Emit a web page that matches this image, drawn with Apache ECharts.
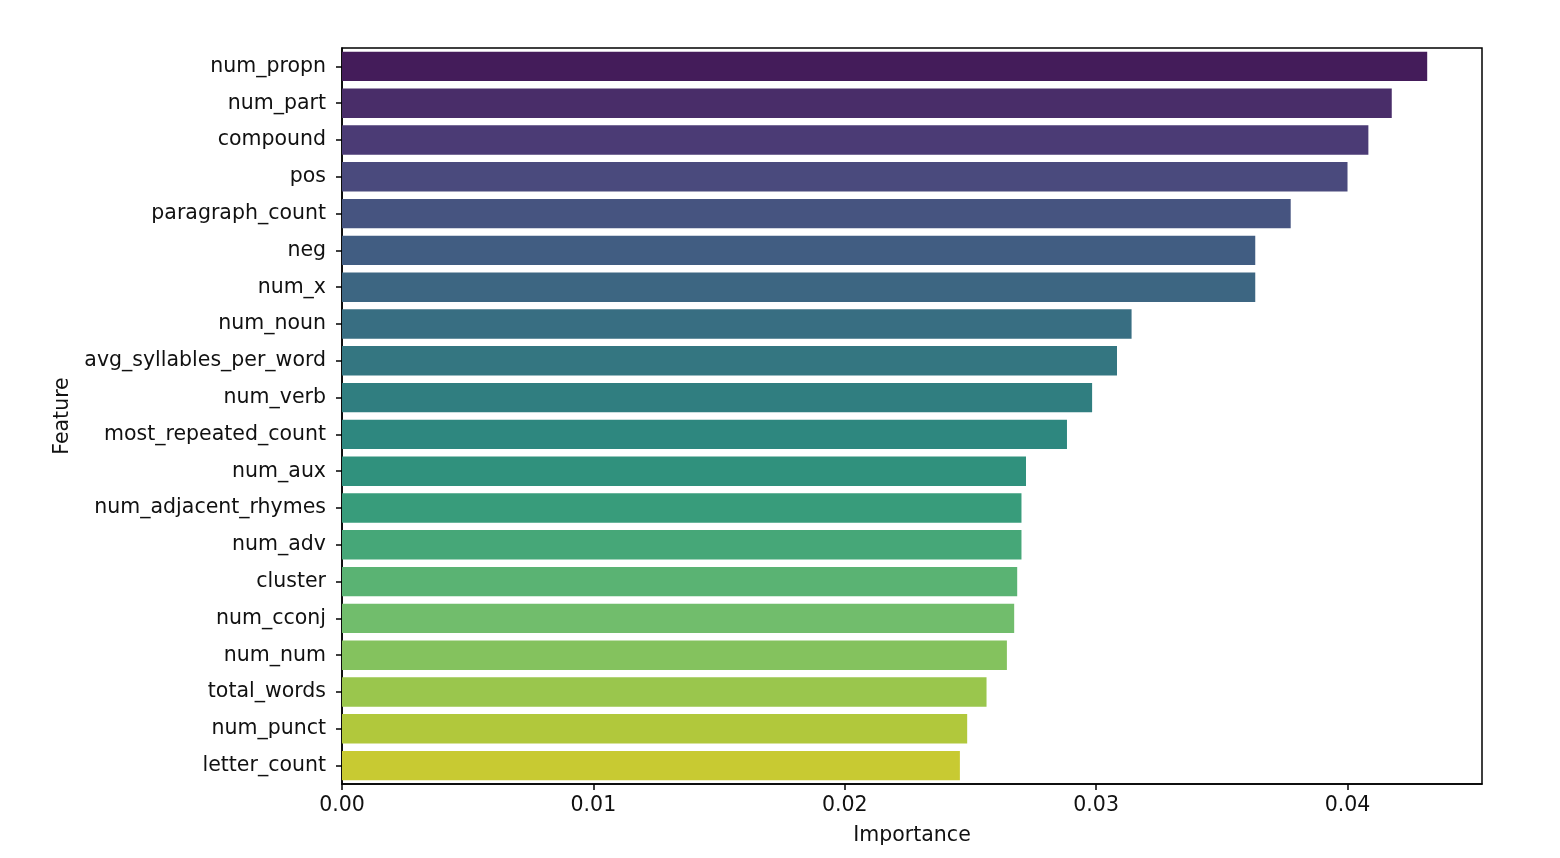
<!DOCTYPE html>
<html>
<head>
<meta charset="utf-8">
<script src="https://cdn.jsdelivr.net/npm/echarts@6/dist/echarts.min.js"></script>
<style>
  html, body { margin: 0; padding: 0; background: #fff; }
  #container { width: 1560px; height: 858px; }
</style>
</head>
<body>
<div id="container"></div>
<script>
let features = ['num_propn', 'num_part', 'compound', 'pos', 'paragraph_count', 'neg', 'num_x',
    'num_noun', 'avg_syllables_per_word', 'num_verb', 'most_repeated_count', 'num_aux',
    'num_adjacent_rhymes', 'num_adv', 'cluster', 'num_cconj', 'num_num', 'total_words',
    'num_punct', 'letter_count'];
let importance = [0.04317, 0.04176, 0.04083, 0.04000, 0.03774, 0.03633, 0.03633,
    0.03141, 0.03083, 0.02984, 0.02884, 0.02721,
    0.02703, 0.02703, 0.02686, 0.02674, 0.02645, 0.02564,
    0.02487, 0.02458];
let xTicks = [0, 0.01, 0.02, 0.03, 0.04];

// viridis stops every 0.05
let viridis = ['#440154','#471365','#482475','#463480','#414487','#3b528b','#355f8d','#2f6c8e',
    '#2a788e','#25848e','#21918c','#1e9c89','#22a884','#2fb47c','#44bf70','#5ec962',
    '#7ad151','#9bd93c','#bddf26','#dfe318','#fde725'];

function hexToRgb(h) {
    return [parseInt(h.substr(1, 2), 16), parseInt(h.substr(3, 2), 16), parseInt(h.substr(5, 2), 16)];
}

function viridisAt(t) {
    let p = t * 20;
    let i = Math.min(Math.floor(p), 19);
    let f = p - i;
    let a = hexToRgb(viridis[i]), b = hexToRgb(viridis[i + 1]);
    return a.map((v, k) => (v + (b[k] - v) * f) / 255);
}

// seaborn-style desaturation (saturation 0.75 in HLS)
function desaturate(rgb, prop) {
    let [r, g, b] = rgb;
    let mx = Math.max(r, g, b), mn = Math.min(r, g, b);
    let l = (mx + mn) / 2, h = 0, s = 0;
    if (mx !== mn) {
        let d = mx - mn;
        s = l > 0.5 ? d / (2 - mx - mn) : d / (mx + mn);
        if (mx === r) h = ((g - b) / d) % 6;
        else if (mx === g) h = (b - r) / d + 2;
        else h = (r - g) / d + 4;
        h /= 6;
        if (h < 0) h += 1;
    }
    s *= prop;
    function hue(p, q, t) {
        if (t < 0) t += 1;
        if (t > 1) t -= 1;
        if (t < 1 / 6) return p + (q - p) * 6 * t;
        if (t < 1 / 2) return q;
        if (t < 2 / 3) return p + (q - p) * (2 / 3 - t) * 6;
        return p;
    }
    let q = l < 0.5 ? l * (1 + s) : l + s - l * s;
    let p = 2 * l - q;
    let out = s === 0 ? [l, l, l] : [hue(p, q, h + 1 / 3), hue(p, q, h), hue(p, q, h - 1 / 3)];
    return 'rgb(' + out.map(v => Math.round(v * 255)).join(',') + ')';
}

let n = features.length;
let barData = importance.map((v, i) => ({
    value: v,
    itemStyle: { color: desaturate(viridisAt((i + 1) / (n + 1)), 0.75) }
}));

let font = 'DejaVu Sans';
let dom = document.getElementById('container');
let myChart = echarts.init(dom);
let option = {
    backgroundColor: '#fff',
    animation: false,
    grid: {
        left: 342,
        right: 78,
        top: 48,
        bottom: 74,
        show: true,
        borderColor: '#000',
        borderWidth: 1.5
    },
    xAxis: {
        type: 'value',
        min: 0,
        max: 0.04535,
        interval: 0.01,
        name: 'Importance',
        nameLocation: 'middle',
        nameGap: 41,
        nameTextStyle: { fontSize: 20.5, color: '#111', fontFamily: font },
        splitLine: { show: false },
        axisLine: { show: true, lineStyle: { color: '#000', width: 1.5 } },
        axisTick: { show: true, length: 6, customValues: xTicks, lineStyle: { color: '#000', width: 1.5 } },
        axisLabel: {
            customValues: xTicks,
            formatter: v => v.toFixed(2),
            fontSize: 20.5,
            color: '#111',
            fontFamily: font,
            margin: 11
        }
    },
    yAxis: {
        type: 'category',
        inverse: true,
        data: features,
        name: 'Feature',
        nameLocation: 'middle',
        nameGap: 265,
        nameRotate: 90,
        nameTextStyle: { fontSize: 20.5, color: '#111', fontFamily: font },
        axisLine: { show: true, lineStyle: { color: '#000', width: 1.5 } },
        axisTick: { show: true, alignWithLabel: true, length: 6, lineStyle: { color: '#000', width: 1.5 } },
        axisLabel: { fontSize: 20.5, color: '#111', fontFamily: font, margin: 16 },
        splitLine: { show: false }
    },
    series: [{
        type: 'bar',
        data: barData,
        barWidth: '80%'
    }]
};
myChart.setOption(option, true);
</script>
</body>
</html>
